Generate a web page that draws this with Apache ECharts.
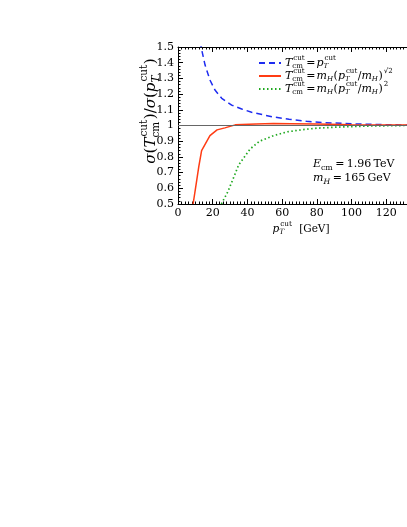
<!DOCTYPE html>
<html>
<head>
<meta charset="utf-8">
<script src="https://cdn.jsdelivr.net/npm/echarts@6/dist/echarts.min.js"></script>
<style>
  html, body { margin: 0; padding: 0; background: #fff; }
  #chart { width: 407px; height: 527px; }
</style>
</head>
<body>
<div id="chart"></div>
<script>
// values
const ptCutData = [
  [12, 1.6], [13.3, 1.5], [15.6, 1.385], [18.4, 1.29], [21.3, 1.226], [25.2, 1.173],
  [30.9, 1.13], [36.7, 1.105], [42.4, 1.084], [55, 1.054], [64, 1.04], [74, 1.027],
  [85, 1.018], [100, 1.011], [115, 1.006], [127, 1.004], [140, 1.003]
];
const sqrt2Data = [
  [8.7, 0.5], [10.5, 0.63], [12, 0.74], [13.6, 0.84], [18.4, 0.935], [22.5, 0.972],
  [27, 0.985], [33, 1.004], [45, 1.01], [55, 1.012], [65, 1.011], [80, 1.009],
  [100, 1.005], [120, 1.003], [140, 1.002]
];
const squareData = [
  [25, 0.5], [28.8, 0.58], [31, 0.64], [35, 0.75], [41.5, 0.85], [47, 0.9],
  [55, 0.935], [63, 0.96], [73, 0.975], [80, 0.983], [92, 0.99], [112, 0.997],
  [130, 1.0], [140, 1.0]
];
const xTicks = [0, 20, 40, 60, 80, 100, 120, 140];
const yTicks = [0.5, 0.6, 0.7, 0.8, 0.9, 1, 1.1, 1.2, 1.3, 1.4, 1.5];

const SERIF = '"DejaVu Serif"';
const ctx = document.createElement('canvas').getContext('2d');

function fnt(size, it) {
  return (it ? 'italic ' : '') + size + 'px ' + SERIF;
}
function mw(t, size, it) {
  ctx.font = fnt(size, it);
  return ctx.measureText(t).width;
}
function tx(t, x, y, size, it) {
  return {
    type: 'text', x: x, y: y, silent: true,
    style: {
      text: t, font: fnt(size, it), fill: '#000',
      align: 'left', verticalAlign: 'middle',
      textAlign: 'left', textVerticalAlign: 'middle'
    }
  };
}

// little TeX-like typesetter: plain pieces and stacked sup/sub pieces
function mathRow(tokens, size, ratio) {
  let x = 0;
  const kids = [];
  const ss = size * (ratio || 0.7);
  tokens.forEach(tk => {
    if (tk.t !== undefined) {
      kids.push(tx(tk.t, x, 0, size, tk.it));
      x += mw(tk.t, size, tk.it);
    } else {
      let wmax = 0;
      if (tk.sup) {
        kids.push(tx(tk.sup, x + 1, -size * 0.42, ss, tk.supIt));
        wmax = Math.max(wmax, mw(tk.sup, ss, tk.supIt) + 1);
      }
      if (tk.sub) {
        kids.push(tx(tk.sub, x, size * 0.32, ss, tk.subIt));
        wmax = Math.max(wmax, mw(tk.sub, ss, tk.subIt));
      }
      x += wmax + 0.5;
    }
  });
  return { kids: kids, width: x };
}

const Tcm = [{ t: 'T', it: true }, { sup: 'cut', sub: 'cm' }];
const pT = [{ t: 'p', it: true }, { sup: 'cut', sub: 'T', subIt: true }];
const mH = [{ t: 'm', it: true }, { sub: 'H', subIt: true }];
const eq = [{ t: '\u200A=\u200A' }];

const legendRows = [
  [...Tcm, ...eq, ...pT],
  [...Tcm, ...eq, ...mH, { t: '(' }, ...pT, { t: '/' }, ...mH, { t: ')' }, { sup: '\u221A2' }],
  [...Tcm, ...eq, ...mH, { t: '(' }, ...pT, { t: '/' }, ...mH, { t: ')' }, { sup: '2' }]
];
const seriesNames = ['pt', 'sqrt2', 'square'];
const legendY = [63, 76, 89];

const graphics = [];
legendRows.forEach((row, i) => {
  const r = mathRow(row, 11, 0.64);
  graphics.push({ type: 'group', x: 285, y: legendY[i], children: r.kids });
});

const yTitle = mathRow([{ t: '\u03C3', it: true }, { t: '(' }, ...Tcm, { t: ')/' },
  { t: '\u03C3', it: true }, { t: '(' }, ...pT, { t: ')' }], 15);
yTitle.kids.forEach(k => { k.x -= yTitle.width / 2; });
graphics.push({ type: 'group', x: 151, y: 111, rotation: Math.PI / 2, children: yTitle.kids });

const xTitle = mathRow([...pT, { t: '  [GeV]' }], 10.5);
xTitle.kids.forEach(k => { k.x -= xTitle.width / 2; });
graphics.push({ type: 'group', x: 301, y: 229, children: xTitle.kids });

const ann1 = mathRow([{ t: 'E', it: true }, { sub: 'cm' }, { t: '\u2009=\u20091.96\u2009TeV' }], 11);
const ann2 = mathRow([...mH, { t: '\u2009=\u2009165\u2009GeV' }], 11);
graphics.push({ type: 'group', x: 313, y: 164, children: ann1.kids });
graphics.push({ type: 'group', x: 313, y: 178, children: ann2.kids });

const axisCommon = {
  type: 'value', min: 0, max: 140, interval: 20,
  axisLine: { show: true, lineStyle: { color: '#000', width: 1 } },
  axisTick: { show: true, inside: true, length: 5, lineStyle: { color: '#000' } },
  minorTick: { show: true, splitNumber: 10, length: 2.5, lineStyle: { color: '#000' } },
  splitLine: { show: false }
};

const chart = echarts.init(document.getElementById('chart'), null, { renderer: 'canvas' });
chart.setOption({
  animation: false,
  backgroundColor: '#fff',
  grid: { left: 178, top: 47, width: 243, height: 157, containLabel: false, outerBoundsMode: 'none' },
  xAxis: [
    Object.assign({}, axisCommon, {
      position: 'bottom',
      axisLabel: { color: '#000', fontFamily: SERIF, fontSize: 11, margin: 4 }
    }),
    Object.assign({}, axisCommon, { position: 'top', axisLabel: { show: false } })
  ],
  yAxis: {
    type: 'value', min: 0.5, max: 1.5, interval: 0.1,
    axisLine: { show: true, lineStyle: { color: '#000', width: 1 } },
    axisTick: { show: true, inside: true, length: 5, lineStyle: { color: '#000' } },
    minorTick: { show: true, splitNumber: 5, length: 2.5, lineStyle: { color: '#000' } },
    splitLine: { show: false },
    axisLabel: {
      color: '#000', fontFamily: SERIF, fontSize: 11, margin: 4,
      formatter: v => (Math.abs(v - 1) < 1e-9 ? '1' : v.toFixed(1))
    }
  },
  legend: legendRows.map((r, i) => ({
    data: [seriesNames[i]],
    left: 253, top: legendY[i] - 10,
    itemWidth: 22, itemHeight: 10,
    selectedMode: false,
    formatter: () => '',
    itemStyle: { opacity: 0 },
    textStyle: { fontSize: 10 }
  })),
  graphic: graphics,
  series: [
    {
      name: 'pt', type: 'line', data: ptCutData, symbol: 'none', clip: true,
      color: '#1e2cf0',
      lineStyle: { color: '#1e2cf0', width: 1.5, type: [6, 4] },
      markLine: {
        silent: true, symbol: 'none', label: { show: false },
        lineStyle: { color: '#666', width: 1, type: 'solid' },
        data: [{ yAxis: 1 }]
      },
      z: 3
    },
    {
      name: 'sqrt2', type: 'line', data: sqrt2Data, symbol: 'none', clip: true,
      color: '#ff3c14',
      lineStyle: { color: '#ff3c14', width: 1.5 },
      z: 4
    },
    {
      name: 'square', type: 'line', data: squareData, symbol: 'none', clip: true,
      color: '#1fa81f',
      lineStyle: { color: '#1fa81f', width: 1.7, type: [1.5, 2.5] },
      z: 3
    }
  ]
});
</script>
</body>
</html>
